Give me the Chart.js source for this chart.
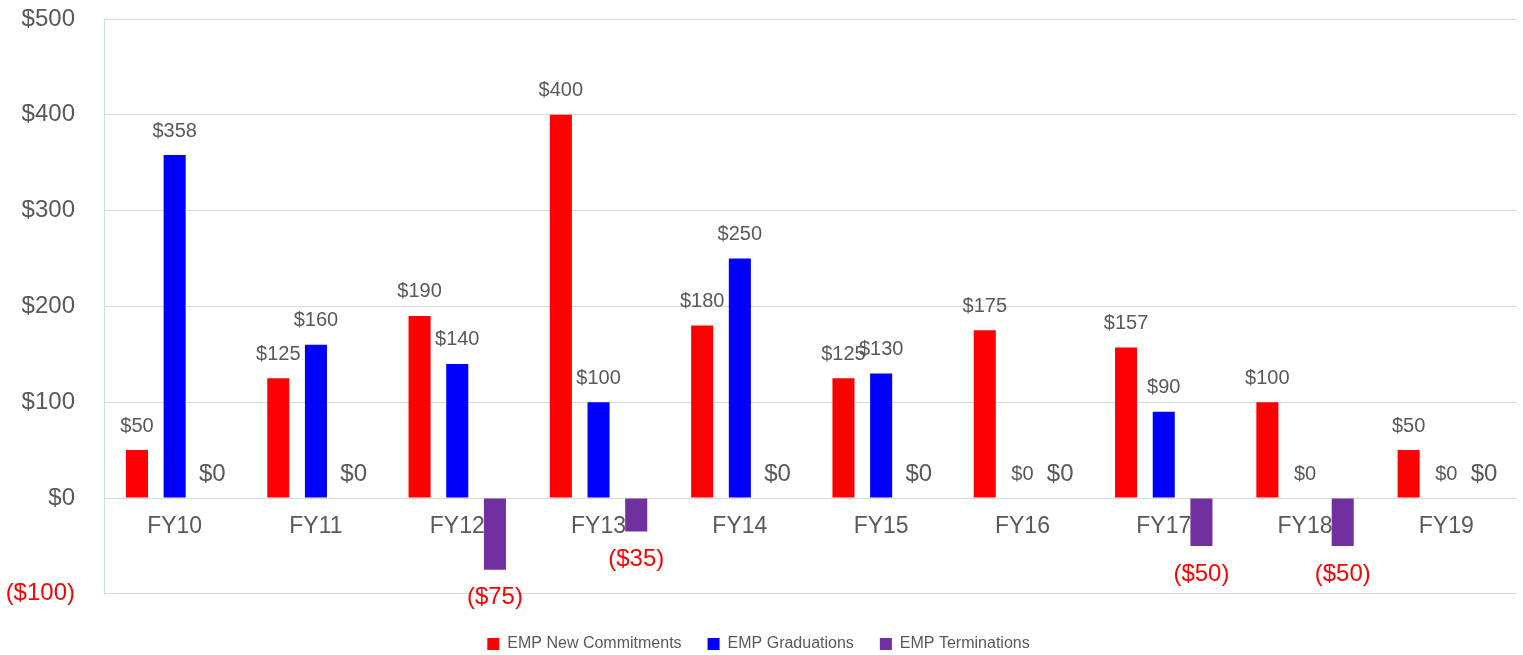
<!DOCTYPE html>
<html>
<head>
<meta charset="utf-8">
<script src="https://cdn.jsdelivr.net/npm/chart.js@4/dist/chart.umd.min.js"></script>
<style>
  html, body { margin: 0; padding: 0; background: #fff; }
  #wrap { width: 1523px; height: 655px; }
</style>
</head>
<body>
<div id="wrap"><canvas id="chart"></canvas></div>
<script>
// chart values
const years = ['FY10', 'FY11', 'FY12', 'FY13', 'FY14', 'FY15', 'FY16', 'FY17', 'FY18', 'FY19'];
const newCommitments = [50, 125, 190, 400, 180, 125, 175, 157, 100, 50];
const graduations = [358, 160, 140, 100, 250, 130, 0, 90, 0, 0];
const terminations = [0, 0, -75, -35, 0, 0, 0, -50, -50, 0];
const yTicks = [-100, 0, 100, 200, 300, 400, 500];

const FONT = "'Liberation Sans', Arial, sans-serif";
const GREY = '#595959';

function money(v) {
    return v < 0 ? '($' + Math.abs(v) + ')' : '$' + v;
}

// category names sit just under the $0 line, behind the bars
const categoryLabels = {
    id: 'categoryLabels',
    beforeDatasetsDraw(chart) {
        const ctx = chart.ctx;
        const x = chart.scales.x;
        const y0 = chart.scales.y.getPixelForValue(0);
        ctx.save();
        ctx.textAlign = 'center';
        ctx.textBaseline = 'middle';
        ctx.fillStyle = GREY;
        ctx.font = '23px ' + FONT;
        chart.data.labels.forEach((lab, i) => {
            ctx.fillText(lab, x.getPixelForValue(i), y0 + 29);
        });
        ctx.restore();
    }
};

// draws the value labels over the bars (no datalabels plugin available)
const valueLabels = {
    id: 'valueLabels',
    afterDatasetsDraw(chart) {
        const ctx = chart.ctx;
        ctx.save();
        ctx.textAlign = 'center';
        ctx.textBaseline = 'middle';
        chart.data.datasets.forEach((ds, i) => {
            const meta = chart.getDatasetMeta(i);
            const big = i === 2;
            meta.data.forEach((bar, j) => {
                const v = ds.data[j];
                if (v < 0) {
                    ctx.fillStyle = '#ff0000';
                    ctx.font = '24px ' + FONT;
                    ctx.fillText(money(v), bar.x, bar.y + 28);
                } else {
                    ctx.fillStyle = GREY;
                    ctx.font = (big ? '24px ' : '20px ') + FONT;
                    ctx.fillText(money(v), bar.x, bar.y - 24);
                }
            });
        });
        ctx.restore();
    }
};

const ctx = document.getElementById('chart').getContext('2d');
new Chart(ctx, {
    type: 'bar',
    data: {
        labels: years,
        datasets: [
            { label: 'EMP New Commitments', data: newCommitments, backgroundColor: '#ff0000' },
            { label: 'EMP Graduations', data: graduations, backgroundColor: '#0000ff' },
            { label: 'EMP Terminations', data: terminations, backgroundColor: '#7030a0' }
        ]
    },
    options: {
        responsive: true,
        maintainAspectRatio: false,
        animation: false,
        datasets: {
            bar: { categoryPercentage: 0.8, barPercentage: 0.585, borderWidth: 0 }
        },
        layout: { padding: { top: 19, right: 6, left: 0, bottom: -7 } },
        plugins: {
            tooltip: { enabled: false },
            legend: {
                position: 'bottom',
                title: { display: true, text: ' ', font: { size: 1 }, padding: { top: 7, bottom: 0 } },
                labels: {
                    boxWidth: 12,
                    boxHeight: 12,
                    padding: 26,
                    color: GREY,
                    font: { family: FONT, size: 16 }
                }
            }
        },
        scales: {
            x: {
                grid: { display: false },
                border: { display: false },
                ticks: { display: false }
            },
            y: {
                min: -100,
                max: 500,
                afterBuildTicks(axis) {
                    axis.ticks = yTicks.map(v => ({ value: v }));
                },
                afterFit(axis) {
                    axis.width = 104;
                    axis.paddingTop = 0;
                    axis.paddingBottom = 0;
                },
                grid: { color: '#d9d9d9', drawTicks: false },
                border: { color: '#c4e4e8' },
                ticks: {
                    padding: 29,
                    font: { family: FONT, size: 24 },
                    color: c => (c.tick && c.tick.value < 0 ? '#ff0000' : GREY),
                    callback: v => money(v)
                }
            }
        }
    },
    plugins: [categoryLabels, valueLabels]
});
</script>
</body>
</html>
